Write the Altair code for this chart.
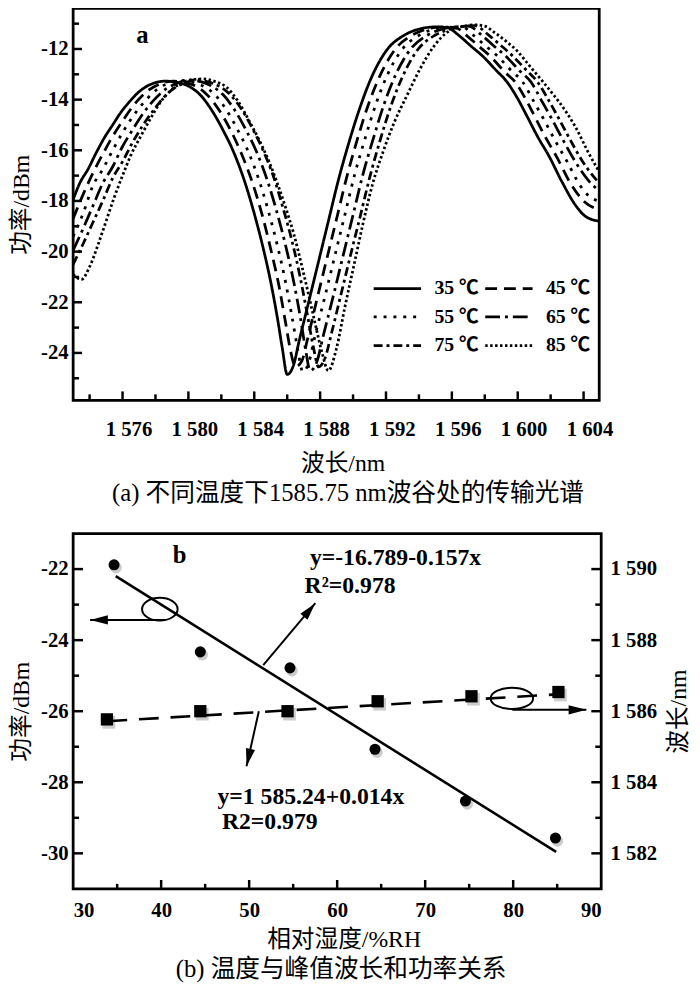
import altair as alt
import pandas as pd

SERIF = "Liberation Serif, DejaVu Serif, Noto Sans CJK SC"
LEGEND_FONT = "Liberation Serif, Noto Sans CJK SC"

# ---------------- panel (a): transmission spectra ----------------
temps = ["35 ℃", "45 ℃", "55 ℃", "65 ℃", "75 ℃", "85 ℃"]
dash_styles = [[1, 0], [12, 7], [3, 7], [15, 5, 3, 5], [9, 4, 3, 4], [2.5, 2.5]]

wl_35 = [1573.0, 1573.4, 1573.9, 1574.4, 1574.9, 1575.4, 1575.9, 1576.4, 1576.9, 1577.4, 1577.9, 1578.6, 1579.4,
         1580.1, 1580.7, 1581.4, 1582.1, 1582.7, 1583.4, 1584.0, 1584.5, 1585.0, 1585.4, 1585.7, 1586.0, 1586.4,
         1586.7, 1587.3, 1587.9, 1588.5, 1589.1, 1589.7, 1590.4, 1591.1, 1592.1, 1593.1, 1594.1, 1595.0, 1595.7,
         1596.4, 1597.1, 1597.9, 1598.7, 1599.3, 1599.9, 1600.6, 1601.2, 1601.9, 1602.7, 1603.5, 1604.1, 1604.95]
p_35 = [-17.95, -17.3, -16.75, -16.1, -15.5, -15.0, -14.5, -14.1, -13.75, -13.5, -13.35, -13.27, -13.33, -13.5,
        -13.8, -14.4, -15.2, -16.0, -17.2, -18.5, -19.75, -21.2, -22.6, -23.8, -24.85, -24.45, -23.6, -22.0, -20.4,
        -18.8, -17.2, -15.8, -14.35, -13.15, -12.0, -11.46, -11.2, -11.13, -11.15, -11.45, -11.85, -12.3, -12.85,
        -13.26, -13.85, -14.7, -15.45, -16.23, -17.26, -18.16, -18.6, -18.8]

wl_45 = [1573.0, 1573.6, 1574.2, 1574.8, 1575.4, 1576.0, 1576.7, 1577.4, 1578.2, 1579.1, 1579.9, 1580.6, 1581.2,
         1581.9, 1582.6, 1583.2, 1583.9, 1584.5, 1585.0, 1585.5, 1585.9, 1586.2, 1586.5, 1586.9, 1587.2, 1587.8,
         1588.4, 1589.0, 1589.6, 1590.2, 1590.9, 1591.6, 1592.6, 1593.6, 1594.6, 1595.5, 1596.2, 1596.9, 1597.6,
         1598.4, 1599.2, 1599.9, 1600.5, 1601.1, 1601.7, 1602.4, 1603.2, 1604.0, 1604.95]
p_45 = [-18.7, -17.75, -16.9, -16.15, -15.45, -14.85, -14.2, -13.72, -13.4, -13.27, -13.34, -13.52, -13.85, -14.45,
        -15.25, -16.1, -17.3, -18.6, -19.9, -21.35, -22.8, -23.9, -24.55, -24.3, -23.55, -21.9, -20.3, -18.7, -17.1,
        -15.7, -14.25, -13.1, -11.98, -11.45, -11.2, -11.13, -11.15, -11.47, -11.87, -12.33, -12.9, -13.35, -14.0,
        -14.75, -15.5, -16.3, -17.3, -18.0, -18.35]

wl_55 = [1573.0, 1573.6, 1574.2, 1574.8, 1575.4, 1576.0, 1576.7, 1577.4, 1578.2, 1578.9, 1579.5, 1580.3, 1581.0,
         1581.6, 1582.3, 1583.0, 1583.6, 1584.3, 1584.9, 1585.4, 1585.9, 1586.3, 1586.65, 1586.95, 1587.3, 1587.7,
         1588.3, 1588.9, 1589.5, 1590.1, 1590.7, 1591.4, 1592.1, 1593.0, 1594.0, 1595.0, 1595.9, 1596.6, 1597.3,
         1598.0, 1598.8, 1599.6, 1600.3, 1601.0, 1601.6, 1602.3, 1603.0, 1603.8, 1604.4, 1604.95]
p_55 = [-19.4, -18.5, -17.4, -16.75, -16.0, -15.3, -14.6, -14.03, -13.55, -13.33, -13.25, -13.32, -13.5, -13.8,
        -14.4, -15.2, -16.0, -17.2, -18.5, -19.75, -21.2, -22.6, -23.9, -24.75, -24.4, -23.3, -21.75, -20.15, -18.55,
        -16.95, -15.6, -14.15, -13.0, -12.0, -11.46, -11.2, -11.13, -11.12, -11.45, -11.85, -12.3, -12.85, -13.3,
        -14.1, -14.8, -15.65, -16.45, -17.4, -17.85, -18.0]

wl_65 = [1573.0, 1573.6, 1574.2, 1574.8, 1575.4, 1576.0, 1576.6, 1577.3, 1578.0, 1578.7, 1579.4, 1580.0, 1580.8,
         1581.5, 1582.1, 1582.8, 1583.5, 1584.1, 1584.8, 1585.4, 1585.9, 1586.4, 1586.8, 1587.1, 1587.4, 1587.8,
         1588.2, 1588.8, 1589.4, 1590.0, 1590.6, 1591.2, 1591.9, 1592.6, 1593.5, 1594.5, 1595.5, 1596.4, 1597.0,
         1597.8, 1598.5, 1599.3, 1600.1, 1600.8, 1601.5, 1602.1, 1602.8, 1603.5, 1604.3, 1604.95]
p_65 = [-19.95, -19.1, -18.2, -17.3, -16.65, -15.85, -15.2, -14.5, -13.95, -13.55, -13.33, -13.22, -13.3, -13.5,
        -13.8, -14.4, -15.2, -16.0, -17.2, -18.5, -19.75, -21.2, -22.6, -23.8, -24.7, -24.35, -23.3, -21.75, -20.15,
        -18.55, -16.95, -15.6, -14.15, -13.0, -12.0, -11.46, -11.2, -11.12, -11.1, -11.45, -11.85, -12.3, -12.85,
        -13.3, -14.1, -14.8, -15.65, -16.45, -17.2, -17.6]

wl_75 = [1573.0, 1573.6, 1574.2, 1574.8, 1575.4, 1576.0, 1576.6, 1577.2, 1577.9, 1578.6, 1579.3, 1579.9, 1580.5,
         1581.2, 1581.9, 1582.5, 1583.2, 1583.9, 1584.5, 1585.2, 1585.8, 1586.3, 1586.8, 1587.2, 1587.6, 1587.9,
         1588.3, 1588.7, 1589.3, 1589.9, 1590.4, 1591.0, 1591.6, 1592.3, 1593.0, 1593.9, 1595.0, 1596.0, 1596.8,
         1597.4, 1598.2, 1598.9, 1599.7, 1600.5, 1601.2, 1601.9, 1602.5, 1603.2, 1603.9, 1604.5, 1604.95]
p_75 = [-20.5, -19.7, -18.85, -18.0, -17.1, -16.45, -15.7, -15.05, -14.4, -13.85, -13.48, -13.32, -13.2, -13.3,
        -13.48, -13.78, -14.35, -15.15, -15.95, -17.1, -18.4, -19.6, -21.05, -22.4, -23.8, -24.55, -24.2, -23.2,
        -21.6, -20.0, -18.7, -17.1, -15.7, -14.25, -13.1, -12.05, -11.45, -11.2, -11.1, -11.08, -11.43, -11.82,
        -12.28, -12.82, -13.3, -14.05, -14.75, -15.6, -16.4, -16.95, -17.3]

wl_85 = [1573.0, 1573.5, 1574.0, 1574.5, 1575.0, 1575.5, 1576.0, 1576.5, 1577.1, 1577.7, 1578.3, 1579.0, 1579.7,
         1580.4, 1580.9, 1581.6, 1582.3, 1583.0, 1583.7, 1584.3, 1584.9, 1585.4, 1585.9, 1586.4, 1586.9, 1587.3,
         1587.7, 1588.1, 1588.5, 1589.0, 1589.5, 1590.1, 1590.6, 1591.2, 1591.8, 1592.5, 1593.3, 1594.1, 1594.9,
         1595.7, 1596.6, 1597.4, 1598.0, 1598.6, 1599.3, 1600.0, 1600.7, 1601.5, 1602.1, 1602.8, 1603.5, 1604.3,
         1604.95]
p_85 = [-20.9, -21.1, -20.6, -19.75, -18.8, -17.85, -17.0, -16.2, -15.45, -14.75, -14.1, -13.6, -13.3, -13.2, -13.18,
        -13.28, -13.5, -14.05, -14.85, -15.6, -16.45, -17.3, -18.25, -19.3, -20.6, -21.7, -22.85, -23.95, -24.7,
        -23.8, -22.2, -20.4, -18.9, -17.3, -16.1, -14.9, -13.8, -12.75, -11.9, -11.35, -11.12, -11.05, -11.1, -11.35,
        -11.7, -12.1, -12.65, -13.27, -13.75, -14.35, -15.07, -16.1, -16.85]

a_x_labels = [1576, 1580, 1584, 1588, 1592, 1596, 1600, 1604]
a_x_minor = [1574, 1578, 1582, 1586, 1590, 1594, 1598, 1602]
a_y_labels = [-12, -14, -16, -18, -20, -22, -24]
a_y_minor = [-11, -13, -15, -17, -19, -21, -23, -25]
a_label = ["a"]
a_label_x = [1577.2]
a_label_y = [-11.45]

# ---------------- panel (b): humidity relations ----------------
hum_power = [34.65, 44.45, 54.64, 64.3, 74.57, 84.8]
power = [-21.88, -24.33, -24.78, -27.07, -28.53, -29.57]
hum_wave = [33.84, 44.45, 54.36, 64.6, 75.26, 85.14]
peak_wave = [1585.77, 1586.0, 1586.0, 1586.28, 1586.42, 1586.54]
fit_power_x = [34.84, 84.88]
fit_power_y = [-22.2, -29.96]
fit_wave_x = [33.9, 85.4]
fit_wave_y = [1585.72, 1586.48]

b_x_labels = [30, 40, 50, 60, 70, 80, 90]
b_x_major = [40, 50, 60, 70, 80]
b_x_minor = [35, 45, 55, 65, 75, 85]
b_yl_labels = [-22, -24, -26, -28, -30]
b_yl_minor = [-23, -25, -27, -29]
b_yr_labels = [1582, 1584, 1586, 1588, 1590]
b_yr_minor = [1583, 1585, 1587, 1589]

ann_text = ["y=-16.789-0.157x", "R\u00b2=0.978", "y=1 585.24+0.014x", "R2=0.979"]
ann_x = [56.9, 56.3, 46.4, 46.9]
ann_y = [-21.69, -22.48, -28.41, -29.13]
b_label_x = [42.1]
b_label_y = [-21.6]

ell_left_x = [39.85]
ell_left_y = [-23.13]
ell_right_x = [79.85]
ell_right_y = [1586.36]
arrow_l_x = [40.5, 51.6, 51.1]
arrow_l_y = [-23.43, -24.7, -26.0]
arrow_l_x2 = [31.93, 57.52, 49.7]
arrow_l_y2 = [-23.43, -22.96, -27.55]
arrow_l_angle = [270, 40, 193]
arrow_r_x = [79.9]
arrow_r_y = [1586.04]
arrow_r_x2 = [88.32]
arrow_r_angle = [90]

# ---------------- build panel (a) ----------------
curve_x = [wl_35, wl_45, wl_55, wl_65, wl_75, wl_85]
curve_y = [p_35, p_45, p_55, p_65, p_75, p_85]
rows = []
for t, xs, ys in zip(temps, curve_x, curve_y):
    for xv, yv in zip(xs, ys):
        rows.append({"temp": t, "wl": xv, "p": yv})
df_a = pd.DataFrame(rows)

W1, H1 = 533, 397
xs1 = alt.Scale(domain=[1573.0, 1604.95], nice=False, zero=False)
ys1 = alt.Scale(domain=[-25.87, -10.4], nice=False, zero=False)
ax_x1 = alt.Axis(values=a_x_labels, labelExpr="'1 ' + substring(toString(datum.value), 1)",
                 title="波长/nm", labelPadding=19, titlePadding=12, labelOffset=6, titleX=273)
ax_y1 = alt.Axis(values=a_y_labels, labelExpr="toString(datum.value)", title="功率/dBm",
                 labelPadding=5, titlePadding=7)


def X1(f):
    return alt.X(f, scale=xs1, axis=ax_x1)


def Y1(f):
    return alt.Y(f, scale=ys1, axis=ax_y1)


curves = alt.Chart(df_a).mark_line(color="black", strokeWidth=2.8, clip=True, interpolate="monotone").encode(
    x=X1("wl:Q"), y=Y1("p:Q"),
    strokeDash=alt.StrokeDash("temp:N", scale=alt.Scale(domain=temps, range=dash_styles), legend=alt.Legend(
        orient="none", legendX=315, legendY=270, columns=2, direction="horizontal", symbolType="M-2,0L2,0",
        symbolSize=576, symbolStrokeWidth=2.8, symbolStrokeColor="black", labelFont=LEGEND_FONT,
        labelFontSize=20, labelFontWeight="bold", labelColor="black", title=None, rowPadding=5,
        columnPadding=0, labelOffset=24, padding=0)),
    detail="temp:N",
)

a_txt = alt.Chart(pd.DataFrame({"t": a_label, "x": a_label_x, "y": a_label_y})).mark_text(
    font=SERIF, fontSize=25, fontWeight="bold", color="black").encode(x=X1("x:Q"), y=Y1("y:Q"), text="t:N")


def xticks(vals, X, h, length):
    return alt.Chart(pd.DataFrame({"v": vals})).mark_rule(color="black", strokeWidth=2.5).encode(
        x=X("v:Q"), y=alt.value(h), y2=alt.value(h - length))


def yticks(vals, Y, x0, length):
    return alt.Chart(pd.DataFrame({"v": vals})).mark_rule(color="black", strokeWidth=2.5).encode(
        y=Y("v:Q"), x=alt.value(x0), x2=alt.value(x0 + length))


top = alt.layer(
    curves, a_txt,
    xticks(a_x_labels, X1, H1, 9), xticks(a_x_minor, X1, H1, 6),
    yticks(a_y_labels, Y1, 0, 9), yticks(a_y_minor, Y1, 0, 6),
).properties(
    width=W1, height=H1,
    title=alt.TitleParams("(a) 不同温度下1585.75 nm波谷处的传输光谱", orient="bottom", anchor="middle",
                          frame="group", fontSize=25, font=SERIF, fontWeight="normal", color="black",
                          offset=6, dx=12),
)

# ---------------- build panel (b) ----------------
W2, H2 = 535, 360
xs2 = alt.Scale(domain=[30, 90], nice=False, zero=False)
ysL = alt.Scale(domain=[-31, -21], nice=False, zero=False)
ysR = alt.Scale(domain=[1581, 1591], nice=False, zero=False)
ax_x2 = alt.Axis(values=b_x_labels, title="相对湿度/%RH", labelPadding=11, titlePadding=7, titleX=274)
ax_yL = alt.Axis(values=b_yl_labels, labelExpr="toString(datum.value)", title="功率/dBm", orient="left",
                 labelPadding=5, titlePadding=7)
ax_yR = alt.Axis(values=b_yr_labels, labelExpr="'1 ' + substring(toString(datum.value), 1)",
                 title="波长/nm", orient="right", titleAngle=270, titleBaseline="top", labelPadding=9,
                 titlePadding=10)


def X2(f):
    return alt.X(f, scale=xs2, axis=ax_x2)


def YL(f):
    return alt.Y(f, scale=ysL, axis=ax_yL)


def YR(f):
    return alt.Y(f, scale=ysR, axis=ax_yR)


df_p = pd.DataFrame({"h": hum_power, "p": power})
df_w = pd.DataFrame({"h": hum_wave, "w": peak_wave})

ELLIPSE_L = "M-1,0 A1,0.64 0 1,0 1,0 A1,0.64 0 1,0 -1,0 Z"
ELLIPSE_R = "M-1,0 A1,0.5 0 1,0 1,0 A1,0.5 0 1,0 -1,0 Z"
HEAD = "M0,0 L0.26,1 L-0.26,1 Z"

circ_shadow = alt.Chart(df_p).mark_circle(color="#cccccc", opacity=1, size=135, xOffset=2, yOffset=3).encode(
    x=X2("h:Q"), y=YL("p:Q"))
circ = alt.Chart(df_p).mark_circle(color="black", opacity=1, size=125).encode(x=X2("h:Q"), y=YL("p:Q"))
fit_p = alt.Chart(pd.DataFrame({"h": fit_power_x, "p": fit_power_y})).mark_line(
    color="black", strokeWidth=2.6).encode(x=X2("h:Q"), y=YL("p:Q"))
ell_l = alt.Chart(pd.DataFrame({"h": ell_left_x, "p": ell_left_y})).mark_point(
    shape=ELLIPSE_L, size=1296, filled=False, stroke="black", strokeWidth=2, opacity=1).encode(
    x=X2("h:Q"), y=YL("p:Q"))
df_al = pd.DataFrame({"x": arrow_l_x, "y": arrow_l_y, "x2": arrow_l_x2, "y2": arrow_l_y2, "a": arrow_l_angle})
arr_l = alt.Chart(df_al).mark_rule(color="black", strokeWidth=2).encode(
    x=X2("x:Q"), y=YL("y:Q"), x2="x2:Q", y2="y2:Q")
head_l = alt.Chart(df_al).mark_point(shape=HEAD, size=1296, filled=True, color="black", opacity=1).encode(
    x=X2("x2:Q"), y=YL("y2:Q"), angle=alt.Angle("a:Q", scale=None))
ann = alt.Chart(pd.DataFrame({"t": ann_text, "x": ann_x, "y": ann_y})).mark_text(
    align="left", baseline="middle", font=SERIF, fontSize=24, fontWeight="bold", color="black").encode(
    x=X2("x:Q"), y=YL("y:Q"), text="t:N")
b_txt = alt.Chart(pd.DataFrame({"t": ["b"], "x": b_label_x, "y": b_label_y})).mark_text(
    font=SERIF, fontSize=25, fontWeight="bold", color="black").encode(x=X2("x:Q"), y=YL("y:Q"), text="t:N")

left_group = alt.layer(
    circ_shadow, circ, fit_p, ell_l, arr_l, head_l, ann, b_txt,
    xticks(b_x_major, X2, H2, 9), xticks(b_x_minor, X2, H2, 5),
    yticks(b_yl_labels, YL, 0, 10), yticks(b_yl_minor, YL, 0, 6),
)

sq_shadow = alt.Chart(df_w).mark_square(color="#cccccc", opacity=1, size=165, xOffset=2, yOffset=3).encode(
    x=X2("h:Q"), y=YR("w:Q"))
sq = alt.Chart(df_w).mark_square(color="black", opacity=1, size=155).encode(x=X2("h:Q"), y=YR("w:Q"))
fit_w = alt.Chart(pd.DataFrame({"h": fit_wave_x, "w": fit_wave_y})).mark_line(
    color="black", strokeWidth=2.6, strokeDash=[20, 12]).encode(x=X2("h:Q"), y=YR("w:Q"))
ell_r = alt.Chart(pd.DataFrame({"h": ell_right_x, "w": ell_right_y})).mark_point(
    shape=ELLIPSE_R, size=1849, filled=False, stroke="black", strokeWidth=2, opacity=1).encode(
    x=X2("h:Q"), y=YR("w:Q"))
df_ar = pd.DataFrame({"x": arrow_r_x, "y": arrow_r_y, "x2": arrow_r_x2, "a": arrow_r_angle})
arr_r = alt.Chart(df_ar).mark_rule(color="black", strokeWidth=2).encode(x=X2("x:Q"), y=YR("y:Q"), x2="x2:Q")
head_r = alt.Chart(df_ar).mark_point(shape=HEAD, size=1296, filled=True, color="black", opacity=1).encode(
    x=X2("x2:Q"), y=YR("y:Q"), angle=alt.Angle("a:Q", scale=None))

right_group = alt.layer(
    sq_shadow, sq, fit_w, ell_r, arr_r, head_r,
    yticks(b_yr_labels, YR, W2, -10), yticks(b_yr_minor, YR, W2, -6),
)

bottom = alt.layer(left_group, right_group).resolve_scale(y="independent").properties(
    width=W2, height=H2,
    title=alt.TitleParams("(b) 温度与峰值波长和功率关系", orient="bottom", anchor="middle",
                          frame="group", fontSize=25, font=SERIF, fontWeight="normal", color="black",
                          offset=6, dx=4),
)

chart = alt.vconcat(top, bottom, spacing=24).properties(
    padding={"left": 0, "top": -8, "right": 0, "bottom": 0}
).configure_view(stroke="black", strokeWidth=2.8).configure_axis(
    grid=False, ticks=False, domain=False, labelFont=SERIF, labelFontWeight="bold", labelColor="black",
    labelFontSize=21, titleFont=SERIF, titleFontWeight="normal", titleFontSize=24, titleColor="black",
)

chart.save("out.html", embed_options={"renderer": "svg", "actions": False})
